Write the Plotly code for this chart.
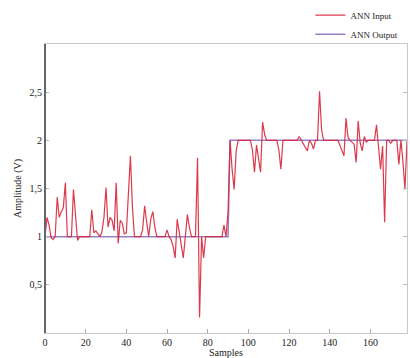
import plotly.graph_objects as go

# Sample index axis
samples = list(range(179))

# Measured ANN input amplitude (V), one value per sample
ann_input = [
    1.00, 1.20, 1.12, 0.99, 0.97, 1.00, 1.41, 1.20, 1.26, 1.30,   # 0-9
    1.56, 1.00, 1.00, 1.00, 1.49, 1.20, 0.96, 1.00, 1.00, 1.00,   # 10-19
    1.00, 1.00, 1.00, 1.28, 1.04, 1.06, 1.03, 1.00, 1.05, 1.20,   # 20-29
    1.51, 1.10, 1.20, 1.17, 1.06, 1.56, 0.93, 1.17, 1.14, 1.03,   # 30-39
    1.04, 1.42, 1.84, 1.30, 1.00, 1.00, 1.00, 1.00, 1.07, 1.32,   # 40-49
    1.15, 1.00, 1.18, 1.26, 1.10, 1.00, 1.00, 1.00, 1.00, 1.00,   # 50-59
    1.07, 1.00, 0.97, 0.90, 0.78, 1.18, 1.05, 0.92, 0.78, 1.00,   # 60-69
    1.23, 1.10, 1.00, 1.00, 1.00, 1.82, 0.16, 1.00, 0.78, 1.00,   # 70-79
    1.00, 1.00, 1.00, 1.00, 1.00, 1.00, 1.00, 1.00, 1.12, 1.00,   # 80-89
    1.25, 2.00, 1.70, 1.49, 1.89, 2.00, 2.00, 2.00, 2.00, 2.00,   # 90-99
    2.00, 2.00, 1.90, 1.67, 1.95, 1.82, 1.67, 2.19, 2.06, 2.00,   # 100-109
    2.00, 2.00, 2.00, 2.00, 2.00, 1.90, 1.70, 2.00, 2.00, 2.00,   # 110-119
    2.00, 2.00, 2.00, 2.00, 2.00, 2.04, 2.00, 1.97, 1.93, 1.89,   # 120-129
    2.00, 1.97, 1.91, 2.00, 2.00, 2.51, 2.11, 2.00, 2.00, 2.00,   # 130-139
    2.00, 2.00, 2.00, 2.00, 2.00, 1.95, 1.90, 1.84, 2.23, 2.03,   # 140-149
    2.00, 1.98, 1.96, 1.77, 2.20, 1.97, 1.89, 2.04, 1.98, 2.00,   # 150-159
    2.00, 2.00, 2.00, 2.16, 1.94, 1.70, 1.94, 1.15, 2.00, 2.00,   # 160-169
    1.97, 2.00, 2.00, 2.00, 1.75, 2.00, 1.78, 1.49, 2.00,         # 170-178
]

# Network output: clean step from 1 V to 2 V
ann_output = [1.0] * 91 + [2.0] * 88

x_ticks = [0, 20, 40, 60, 80, 100, 120, 140, 160]
y_ticks = [0.5, 1.0, 1.5, 2.0, 2.5]

serif = "Liberation Serif"

fig = go.Figure()
# Output step drawn underneath so the noisy input stays on top
fig.add_trace(go.Scatter(
    x=samples, y=ann_output, mode="lines", name="ANN Output",
    line=dict(color="rgba(125,95,185,0.8)", width=1.5),
))
fig.add_trace(go.Scatter(
    x=samples, y=ann_input, mode="lines", name="ANN Input",
    line=dict(color="rgba(217,36,58,0.9)", width=1.2),
))

fig.update_layout(
    width=410, height=358,
    margin=dict(l=45, r=3, t=44, b=25, autoexpand=False),
    paper_bgcolor="white", plot_bgcolor="white",
    separators=",.",
    font=dict(family=serif, size=10, color="#222"),
    showlegend=True,
    legend=dict(
        x=0.99, y=1.15, xanchor="right", yanchor="top",
        traceorder="reversed",
        bgcolor="rgba(0,0,0,0)", font=dict(family=serif, size=9, color="#222"),
        itemwidth=30, tracegroupgap=0,
    ),
    xaxis=dict(
        range=[0, 178], tickvals=x_ticks, showgrid=False, zeroline=False,
        showline=True, linecolor="#c8c8c8", linewidth=1, mirror=True,
        ticks="inside", ticklen=4, tickcolor="#aaaaaa",
        title=dict(text="Samples", font=dict(family=serif, size=10), standoff=2),
        tickfont=dict(family=serif, size=10, color="#222"),
    ),
    yaxis=dict(
        range=[0, 3], tickvals=y_ticks, tickformat=".1~f",
        showgrid=False, zeroline=False,
        showline=True, linecolor="#c8c8c8", linewidth=1, mirror="ticks",
        ticks="inside", ticklen=4, tickcolor="#bbbbbb",
        title=dict(text="Amplitude (V)", font=dict(family=serif, size=10), standoff=6),
        tickfont=dict(family=serif, size=10, color="#222"),
    ),
    shapes=[dict(
        type="line", xref="paper", yref="paper", x0=0, x1=0, y0=0, y1=1,
        line=dict(color="#666666", width=2),
    )],
)

fig.write_html("out.html")
